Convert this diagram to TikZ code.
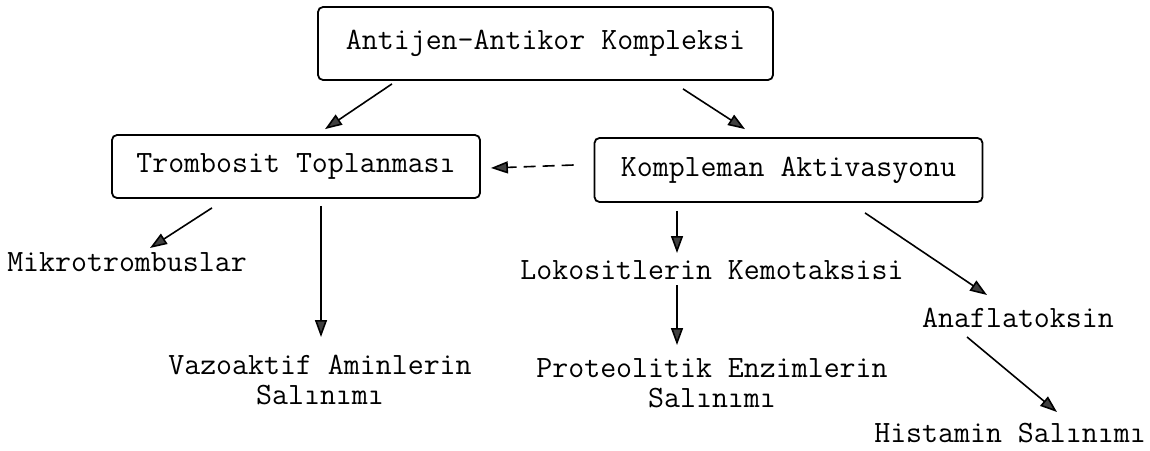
\documentclass[tikz,border=0pt]{standalone}
\usepackage{fontspec}
\usetikzlibrary{arrows.meta}
\begin{document}
\begin{tikzpicture}[x=1pt,y=-1pt]
\tikzstyle{every node}+=[inner sep=0pt,font=\ttfamily\fontsize{31}{30}\selectfont]
\tikzstyle{kutu}=[draw,line width=1.8pt,rounded corners=5pt]
\tikzstyle{ok}=[line width=1.6pt,-{Triangle[length=17pt,width=12pt,fill=black!75]}]
\useasboundingbox (0,0) rectangle (1150,450);
\node [kutu,minimum width=455pt,minimum height=73pt] (kompleks) at (545.5,43.5) {Antijen-Antikor Kompleksi};
\node [kutu,minimum width=368pt,minimum height=63pt] (trombosit) at (296,166.5) {Trombosit Toplanması};
\node [kutu,minimum width=388pt,minimum height=64pt] (aktivasyon) at (788.5,170) {Kompleman Aktivasyonu};
\node (mikro) at (127,262) {Mikrotrombuslar};
\node [align=center] (vazo) at (320,380) {Vazoaktif Aminlerin\\Salınımı};
\node (loko) at (712,270) {Lokositlerin Kemotaksisi};
\node [align=center] (proteo) at (712,383) {Proteolitik Enzimlerin\\Salınımı};
\node (ana) at (1018,318) {Anaflatoksin};
\node (histamin) at (1010,433) {Histamin Salınımı};
\draw [ok] ([xshift=-153.5pt,yshift=-3pt]kompleks.south) -- ([xshift=29pt,yshift=5pt]trombosit.north);
\draw [ok] ([xshift=137.5pt,yshift=-8pt]kompleks.south) -- ([xshift=-43.5pt,yshift=8pt]aktivasyon.north);
\draw [ok,dash pattern=on 12pt off 7pt] ([xshift=-20pt,yshift=5pt]aktivasyon.west) -- ([xshift=10pt,yshift=-1.5pt]trombosit.east);
\draw [ok] ([xshift=-84pt,yshift=-9pt]trombosit.south) -- ([xshift=23pt,yshift=14pt]mikro.center);
\draw [ok] ([xshift=25pt,yshift=-7pt]trombosit.south) -- ([xshift=1pt,yshift=43pt]vazo.center);
\draw [ok] ([xshift=-111.5pt,yshift=-8pt]aktivasyon.south) -- ([xshift=-35pt,yshift=17pt]loko.center);
\draw [ok] ([xshift=-35pt,yshift=-15pt]loko.center) -- ([xshift=-35pt,yshift=38pt]proteo.center);
\draw [ok] ([xshift=76.5pt,yshift=-10pt]aktivasyon.south) -- ([xshift=-31pt,yshift=23pt]ana.center);
\draw [ok] ([xshift=-51pt,yshift=-19pt]ana.center) -- ([xshift=47pt,yshift=21pt]histamin.center);
\end{tikzpicture}
\end{document}
